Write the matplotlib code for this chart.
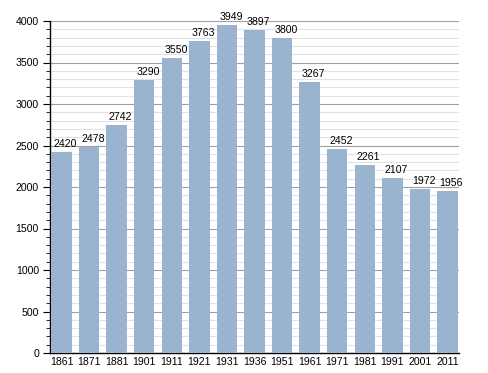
import matplotlib
matplotlib.use("Agg")
import matplotlib.pyplot as plt
from matplotlib.ticker import MultipleLocator

years = ["1861", "1871", "1881", "1901", "1911", "1921", "1931", "1936",
         "1951", "1961", "1971", "1981", "1991", "2001", "2011"]
population = [2420, 2478, 2742, 3290, 3550, 3763, 3949, 3897,
              3800, 3267, 2452, 2261, 2107, 1972, 1956]

plt.rcParams['font.family'] = ['Liberation Sans', 'DejaVu Sans']

fig = plt.figure(figsize=(4.88, 3.73), dpi=100)
ax = fig.add_axes([50/488, 1 - 353/373, (459-50)/488, (353-21)/373])

x = list(range(len(years)))
ax.bar(x, population, width=0.74, color="#9ab3cf", zorder=3)
for xi, v in zip(x, population):
    ax.annotate(str(v), (xi, v), xytext=(4, 5), textcoords="offset pixels",
                ha="center", va="baseline", fontsize=7.6, zorder=4)

ax.set_xlim(-0.42, len(years) - 0.58)
ax.set_ylim(0, 4000)
ax.set_xticks(x)
ax.set_xticklabels(years, fontsize=7.6)
ax.tick_params(axis="x", length=0, pad=3)
ax.yaxis.set_major_locator(MultipleLocator(500))
ax.yaxis.set_minor_locator(MultipleLocator(100))
ax.tick_params(axis="y", which="major", length=5, labelsize=7.6, pad=3)
ax.tick_params(axis="y", which="minor", length=3)
ax.grid(axis="y", which="major", color="#a0a0a0", linewidth=0.8, zorder=0)
ax.grid(axis="y", which="minor", color="#e2e2e2", linewidth=0.8, zorder=0)
for s in ["top", "right"]:
    ax.spines[s].set_visible(False)
ax.spines["left"].set_linewidth(1)
ax.spines["bottom"].set_linewidth(1)

fig.savefig("out.png", dpi=100)
